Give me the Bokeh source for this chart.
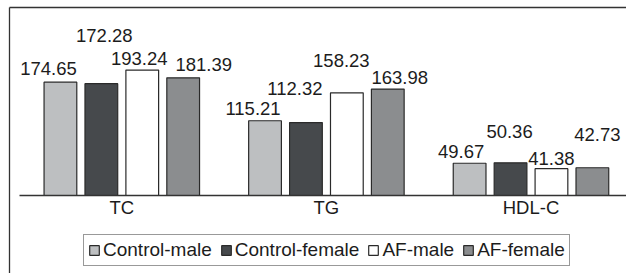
from bokeh.plotting import figure
from bokeh.models import (ColumnDataSource, Range1d, FixedTicker, Legend, LegendItem,
                          LabelSet, LinearAxis)
from bokeh.core.properties import value
from bokeh.transform import dodge
from bokeh.embed import file_html
from bokeh.resources import INLINE

# ---- data ----
categories = ["TC", "TG", "HDL-C"]
series_names = ["Control-male", "Control-female", "AF-male", "AF-female"]
control_male = [174.65, 115.21, 49.67]
control_female = [172.28, 112.32, 50.36]
af_male = [193.24, 158.23, 41.38]
af_female = [181.39, 163.98, 42.73]
series_values = [control_male, control_female, af_male, af_female]

# ---- styles ----
fills = ["#bdbfc1", "#46494c", "#ffffff", "#8b8d8f"]
edge = "#2a2a2a"
offsets = [-0.3, -0.1, 0.1, 0.3]
bar_w = 0.16
# label offsets in pixels (right, up) relative to bar top centre
label_dx = [[-12, -12, -8.5], [3, -11, -1], [-3, -5.5, 0], [20.5, 12, 5]]
label_dy = [[6.7, 6.2, 4.8], [41.2, 28.1, 25.3], [4.6, 25.6, 4.1], [6.3, 4.6, 26.3]]
FONT = "Liberation Sans"
TXT = "#1c1c1c"
BORDER = "#333333"

xc = [i + 0.5 for i in range(len(categories))]

p = figure(width=626, height=273,
           x_range=Range1d(-0.0489, 2.9668), y_range=Range1d(-120.2, 289.7),
           output_backend="svg", toolbar_location=None,
           x_axis_location=None, y_axis_location=None,
           min_border_left=9, min_border_right=0,
           min_border_top=7, min_border_bottom=0)
p.outline_line_color = None
p.grid.visible = False
p.background_fill_color = "white"
p.border_fill_color = "white"


def border_axis(ax):
    ax.ticker = FixedTicker(ticks=[])
    ax.major_tick_line_color = None
    ax.minor_tick_line_color = None
    ax.major_tick_out = 0
    ax.major_tick_in = 0
    ax.major_label_standoff = 0
    ax.major_label_text_font_size = "0px"
    ax.axis_line_color = BORDER
    ax.axis_line_width = 1.3
    return ax


# outer chart box: left and top edges
p.add_layout(border_axis(LinearAxis()), "left")
p.add_layout(border_axis(LinearAxis()), "above")

# category axis, drawn at the bars' base
cat_axis = LinearAxis(fixed_location=0, bounds=(0, 2.9668))
cat_axis.ticker = FixedTicker(ticks=xc)
cat_axis.major_label_overrides = {x: c for x, c in zip(xc, categories)}
cat_axis.major_tick_line_color = None
cat_axis.minor_tick_line_color = None
cat_axis.major_tick_out = 0
cat_axis.major_tick_in = 0
cat_axis.axis_line_color = BORDER
cat_axis.axis_line_width = 1.3
cat_axis.major_label_text_font = FONT
cat_axis.major_label_text_font_size = "18.5px"
cat_axis.major_label_text_color = TXT
cat_axis.major_label_standoff = 2
p.add_layout(cat_axis, "below")

items = []
for k, (name, vals) in enumerate(zip(series_names, series_values)):
    src = ColumnDataSource(dict(x=xc, y=vals, txt=[f"{v:.2f}" for v in vals],
                                dx=label_dx[k], dy=label_dy[k]))
    r = p.vbar(x=dodge("x", offsets[k], range=p.x_range), top="y", bottom=0,
               width=bar_w, source=src, fill_color=fills[k],
               line_color=edge, line_width=1.2)
    items.append(LegendItem(label=name, renderers=[r]))
    lbl = LabelSet(x=dodge("x", offsets[k], range=p.x_range), y="y", text="txt",
                   x_offset="dx", y_offset="dy", source=src,
                   text_align="center", text_baseline="alphabetic",
                   text_font=value(FONT), text_font_size=value("18.5px"),
                   text_color=TXT)
    p.add_layout(lbl)

legend = Legend(items=items, orientation="horizontal", location=(74, 7),
                border_line_color=BORDER, border_line_width=1.2,
                background_fill_color="white", background_fill_alpha=1,
                label_text_font=FONT, label_text_font_size="19px",
                label_text_color=TXT,
                glyph_width=12, glyph_height=12, label_standoff=3,
                spacing=8, padding=4, margin=0)
p.add_layout(legend, "center")

open("out.html", "w").write(file_html(p, INLINE))
